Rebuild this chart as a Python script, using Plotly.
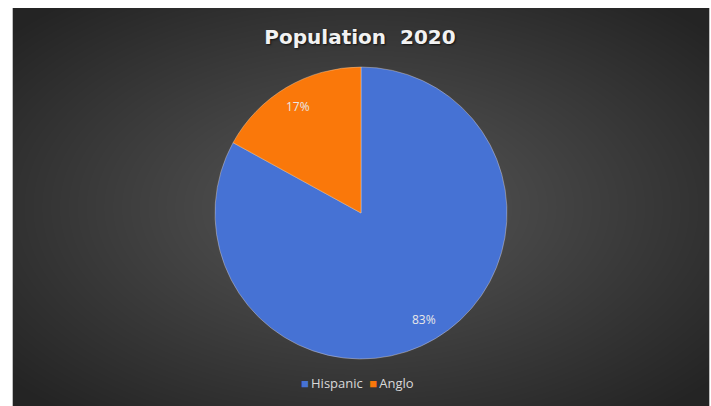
import base64
import struct
import zlib

import numpy as np
import plotly.graph_objects as go

# Population shares for 2020
groups = ["Hispanic", "Anglo"]
shares = [83, 17]
slice_colors = ["#4672D4", "#FA780A"]
chart_title = "Population\u00a0\u00a02020"

W, H = 711, 406
# dark chart card inside a thin white page margin
card_x0, card_x1, card_y0, card_y1 = 13, 709, 8, 406
pie_cx, pie_cy, pie_r = 361, 213, 146


def radial_png(w, h, inner=89, outer=36):
    """Grayscale PNG with an elliptical radial gradient, as a data URI."""
    yy, xx = np.mgrid[0:h, 0:w]
    dx = (xx - w / 2) / (w / 2)
    dy = (yy - h * 0.5) / (h / 2)
    t = np.clip(np.sqrt(dx ** 2 + dy ** 2) / 1.35, 0, 1)
    px = (inner + (outer - inner) * t).astype(np.uint8)
    raw = b"".join(b"\x00" + px[i].tobytes() for i in range(h))

    def chunk(tag, data):
        c = struct.pack(">I", len(data)) + tag + data
        return c + struct.pack(">I", zlib.crc32(tag + data) & 0xFFFFFFFF)

    png = b"\x89PNG\r\n\x1a\n"
    png += chunk(b"IHDR", struct.pack(">IIBBBBB", w, h, 8, 0, 0, 0, 0))
    png += chunk(b"IDAT", zlib.compress(raw, 9))
    png += chunk(b"IEND", b"")
    return "data:image/png;base64," + base64.b64encode(png).decode()


cw, ch = card_x1 - card_x0, card_y1 - card_y0

fig = go.Figure(
    go.Pie(
        labels=groups,
        values=shares,
        sort=False,
        direction="clockwise",
        rotation=0,
        marker=dict(colors=slice_colors, line=dict(color="rgba(255,230,200,0.45)", width=0.8)),
        textinfo="none",
        hoverinfo="label+percent",
        showlegend=False,
        domain=dict(
            x=[(pie_cx - pie_r) / W, (pie_cx + pie_r) / W],
            y=[(H - pie_cy - pie_r) / H, (H - pie_cy + pie_r) / H],
        ),
    )
)

# percentage labels placed at 85% of the radius, mid-angle of each slice
total = sum(shares)
start = 0.0
annotations = []
for name, v in zip(groups, shares):
    mid = np.radians((start + v / 2) / total * 360)
    start += v
    ox = pie_r * 0.85 * np.sin(mid)
    oy = pie_r * 0.85 * np.cos(mid)
    annotations.append(
        dict(
            x=(pie_cx + ox) / W,
            y=(H - pie_cy + oy) / H,
            xref="paper",
            yref="paper",
            xanchor="center",
            yanchor="middle",
            text=f"{round(v / total * 100)}%",
            showarrow=False,
            font=dict(family="Open Sans", size=12, color="#E8E8E8"),
        )
    )

# compact legend row: coloured square + group name
legend_text = "\u2002".join(
    f"<span style='color:{c}'>\u25A0</span>\u2009{name}" for name, c in zip(groups, slice_colors)
)
annotations.append(
    dict(
        x=357 / W,
        y=(H - 383) / H,
        xref="paper",
        yref="paper",
        xanchor="center",
        yanchor="middle",
        text=legend_text,
        showarrow=False,
        font=dict(family="Open Sans", size=13, color="#D9D9D9"),
    )
)

fig.update_layout(
    width=W,
    height=H,
    margin=dict(l=0, r=0, t=0, b=0, autoexpand=False),
    paper_bgcolor="white",
    plot_bgcolor="rgba(0,0,0,0)",
    showlegend=False,
    title=dict(
        text=f"<b>{chart_title}</b>",
        x=360 / W,
        xanchor="center",
        y=1 - 37 / H,
        yanchor="middle",
        font=dict(family="DejaVu Sans", size=20, color="#F2F2F2",
                  shadow="1px 1px 2px rgba(0,0,0,0.7)"),
    ),
    images=[
        dict(
            source=radial_png(cw, ch),
            xref="paper",
            yref="paper",
            x=card_x0 / W,
            y=1 - card_y0 / H,
            sizex=cw / W,
            sizey=ch / H,
            sizing="stretch",
            xanchor="left",
            yanchor="top",
            layer="below",
        )
    ],
    shapes=[
        dict(type="line", xref="paper", yref="paper",
             x0=(card_x0 - 0.5) / W, x1=(card_x0 - 0.5) / W, y0=0, y1=1 - card_y0 / H,
             line=dict(color="#BEBEBE", width=1)),
        dict(type="line", xref="paper", yref="paper",
             x0=(card_x1 + 0.5) / W, x1=(card_x1 + 0.5) / W, y0=0, y1=1 - card_y0 / H,
             line=dict(color="#BEBEBE", width=1)),
    ],
    annotations=annotations,
)

fig.write_html("out.html")
